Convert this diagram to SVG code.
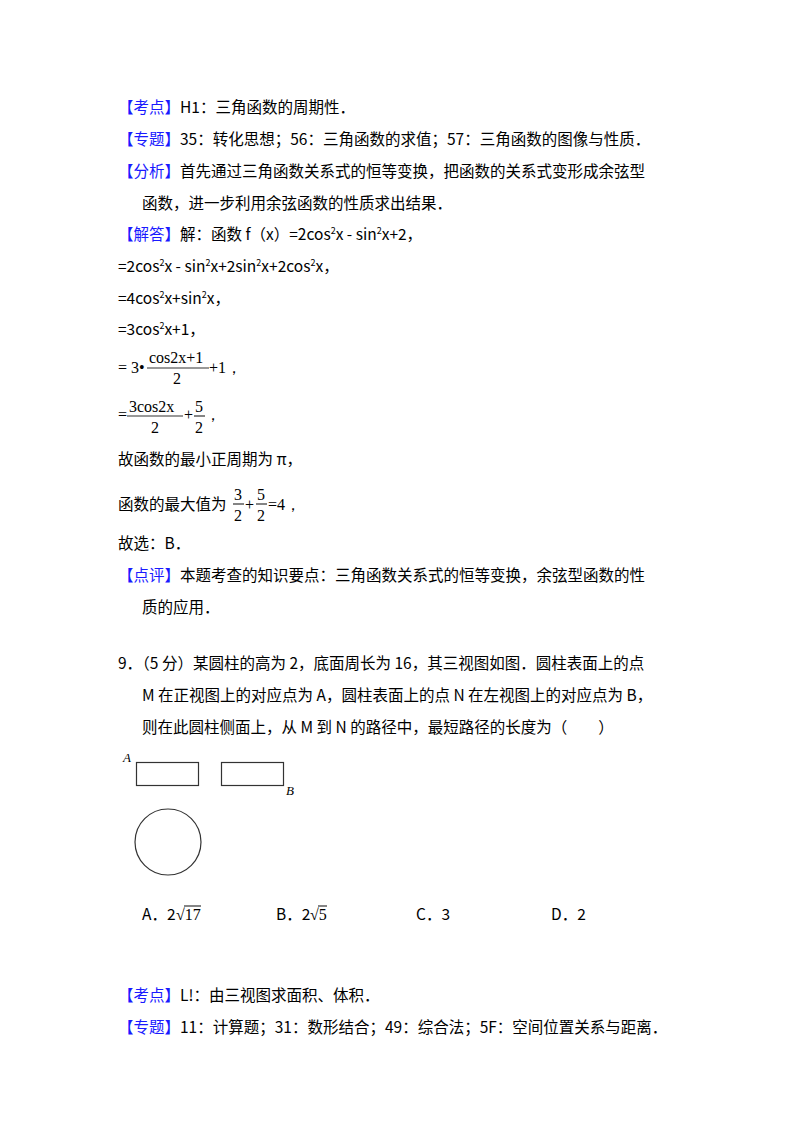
<svg xmlns="http://www.w3.org/2000/svg" width="800" height="1132" viewBox="0 0 800 1132">
<style>
text{font-family:"Noto Sans CJK SC","Noto Sans",sans-serif;font-size:15.5px;fill:#000}
.b{fill:#1a1aff}
.m{font-family:"Liberation Serif",serif;font-size:16px}
.i{font-family:"Liberation Serif",serif;font-style:italic;font-size:13px}
.s{font-size:9px}
.f{stroke:#333;fill:none;stroke-width:1.2}
</style>
<rect width="800" height="1132" fill="#fff"/>
<text x="118" y="113"><tspan class="b">【考点】</tspan>H1：三角函数的周期性．</text>
<text x="118" y="145"><tspan class="b">【专题】</tspan>35：转化思想；56：三角函数的求值；57：三角函数的图像与性质．</text>
<text x="118" y="177"><tspan class="b">【分析】</tspan>首先通过三角函数关系式的恒等变换，把函数的关系式变形成余弦型</text>
<text x="142" y="209">函数，进一步利用余弦函数的性质求出结果．</text>
<text x="118" y="240"><tspan class="b">【解答】</tspan>解：函数 f（x）=2cos<tspan class="s" dy="-6">2</tspan><tspan dy="6">x - sin</tspan><tspan class="s" dy="-6">2</tspan><tspan dy="6">x+2，</tspan></text>
<text x="118" y="272">=2cos<tspan class="s" dy="-6">2</tspan><tspan dy="6">x - sin</tspan><tspan class="s" dy="-6">2</tspan><tspan dy="6">x+2sin</tspan><tspan class="s" dy="-6">2</tspan><tspan dy="6">x+2cos</tspan><tspan class="s" dy="-6">2</tspan><tspan dy="6">x，</tspan></text>
<text x="118" y="304">=4cos<tspan class="s" dy="-6">2</tspan><tspan dy="6">x+sin</tspan><tspan class="s" dy="-6">2</tspan><tspan dy="6">x，</tspan></text>
<text x="118" y="335">=3cos<tspan class="s" dy="-6">2</tspan><tspan dy="6">x+1，</tspan></text>
<text class="m" x="118" y="373">= 3•</text>
<text class="m" x="149" y="363">cos2x+1</text>
<line class="f" x1="147" y1="368" x2="209" y2="368"/>
<text class="m" x="173" y="384">2</text>
<text class="m" x="209" y="373">+1，</text>
<text class="m" x="118" y="420">=</text>
<text class="m" x="129" y="412">3cos2x</text>
<line class="f" x1="127" y1="416" x2="183" y2="416"/>
<text class="m" x="151" y="433">2</text>
<text class="m" x="184" y="420">+</text>
<text class="m" x="195" y="412">5</text>
<line class="f" x1="194" y1="416" x2="205" y2="416"/>
<text class="m" x="195" y="433">2</text>
<text class="m" x="205" y="420">，</text>
<text x="118" y="465">故函数的最小正周期为 π，</text>
<text x="118" y="510">函数的最大值为</text>
<text class="m" x="234" y="500">3</text>
<line class="f" x1="233" y1="504" x2="244" y2="504"/>
<text class="m" x="234" y="521">2</text>
<text class="m" x="245" y="510">+</text>
<text class="m" x="257" y="500">5</text>
<line class="f" x1="256" y1="504" x2="267" y2="504"/>
<text class="m" x="257" y="521">2</text>
<text class="m" x="268" y="510">=4，</text>
<text x="118" y="549">故选：B．</text>
<text x="118" y="581"><tspan class="b">【点评】</tspan>本题考查的知识要点：三角函数关系式的恒等变换，余弦型函数的性</text>
<text x="142" y="613">质的应用．</text>
<text x="118" y="669">9．（5 分）某圆柱的高为 2，底面周长为 16，其三视图如图．圆柱表面上的点</text>
<text x="142" y="701">M 在正视图上的对应点为 A，圆柱表面上的点 N 在左视图上的对应点为 B，</text>
<text x="142" y="733">则在此圆柱侧面上，从 M 到 N 的路径中，最短路径的长度为（　　）</text>
<g id="figure">
<text class="i" x="123" y="762">A</text>
<rect class="f" x="136.5" y="762.5" width="62" height="23"/>
<rect class="f" x="221.5" y="762.5" width="62" height="23"/>
<text class="i" x="286" y="795">B</text>
<circle class="f" cx="168" cy="842" r="33"/>
</g>
<text x="142" y="920">A．2</text>
<text class="m" x="176" y="920">√17</text>
<line class="f" x1="184" y1="906" x2="201" y2="906"/>
<text x="276" y="920">B．2</text>
<text class="m" x="310" y="920">√5</text>
<line class="f" x1="318" y1="906" x2="327" y2="906"/>
<text x="416" y="920">C．3</text>
<text x="551" y="920">D．2</text>
<text x="118" y="1001"><tspan class="b">【考点】</tspan>L!：由三视图求面积、体积．</text>
<text x="118" y="1033"><tspan class="b">【专题】</tspan>11：计算题；31：数形结合；49：综合法；5F：空间位置关系与距离．</text>
</svg>
